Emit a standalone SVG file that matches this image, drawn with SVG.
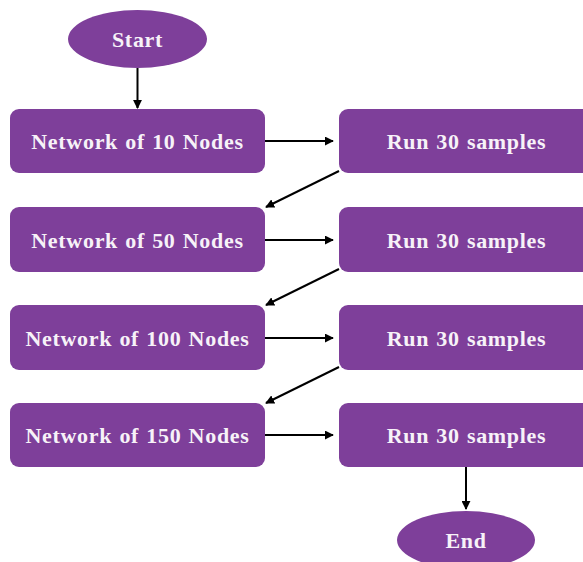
<svg xmlns="http://www.w3.org/2000/svg" width="583" height="562" viewBox="0 0 583 562">
  <style>
    .shape { fill: #7E3F9A; }
    .label { fill: #F7F2F8; font-family: "Liberation Serif", "DejaVu Serif", serif; font-weight: bold; font-size: 22px; letter-spacing: 0.7px; word-spacing: 1px; text-anchor: middle; dominant-baseline: central; }
    .edge { stroke: #000; stroke-width: 2; fill: none; marker-end: url(#arrow); }
  </style>
  <defs>
    <marker id="arrow" viewBox="0 0 10 10" refX="9" refY="5" markerWidth="4.5" markerHeight="4.5" orient="auto" markerUnits="strokeWidth">
      <path d="M0,0 L10,5 L0,10 z" fill="#000"/>
    </marker>
  </defs>
  <rect width="583" height="562" fill="#fff"/>

  <g id="connectors">
    <line class="edge" x1="137.5" y1="68" x2="137.5" y2="108"/>
    <line class="edge" x1="265" y1="141" x2="333" y2="141"/>
    <line class="edge" x1="339" y1="171" x2="266" y2="207"/>
    <line class="edge" x1="265" y1="240" x2="333" y2="240"/>
    <line class="edge" x1="339" y1="269" x2="266" y2="305"/>
    <line class="edge" x1="265" y1="338" x2="333" y2="338"/>
    <line class="edge" x1="339" y1="367" x2="266" y2="403"/>
    <line class="edge" x1="265" y1="435" x2="333" y2="435"/>
    <line class="edge" x1="466" y1="467" x2="466" y2="509"/>
  </g>

  <g id="start">
    <ellipse class="shape" cx="137.5" cy="39" rx="69.5" ry="29"/>
    <text class="label" x="137.5" y="39">Start</text>
  </g>

  <g id="net10">
    <rect class="shape" x="10" y="109" width="255" height="64" rx="9"/>
    <text class="label" x="137.5" y="141">Network of 10 Nodes</text>
  </g>
  <g id="run1">
    <rect class="shape" x="339" y="109" width="255" height="64" rx="9"/>
    <text class="label" x="466.5" y="141">Run 30 samples</text>
  </g>

  <g id="net50">
    <rect class="shape" x="10" y="207" width="255" height="65" rx="9"/>
    <text class="label" x="137.5" y="240">Network of 50 Nodes</text>
  </g>
  <g id="run2">
    <rect class="shape" x="339" y="207" width="255" height="65" rx="9"/>
    <text class="label" x="466.5" y="240">Run 30 samples</text>
  </g>

  <g id="net100">
    <rect class="shape" x="10" y="305" width="255" height="65" rx="9"/>
    <text class="label" x="137.5" y="338">Network of 100 Nodes</text>
  </g>
  <g id="run3">
    <rect class="shape" x="339" y="305" width="255" height="65" rx="9"/>
    <text class="label" x="466.5" y="338">Run 30 samples</text>
  </g>

  <g id="net150">
    <rect class="shape" x="10" y="403" width="255" height="64" rx="9"/>
    <text class="label" x="137.5" y="435">Network of 150 Nodes</text>
  </g>
  <g id="run4">
    <rect class="shape" x="339" y="403" width="255" height="64" rx="9"/>
    <text class="label" x="466.5" y="435">Run 30 samples</text>
  </g>

  <g id="end">
    <ellipse class="shape" cx="466" cy="540" rx="69" ry="29"/>
    <text class="label" x="466" y="540">End</text>
  </g>
</svg>
